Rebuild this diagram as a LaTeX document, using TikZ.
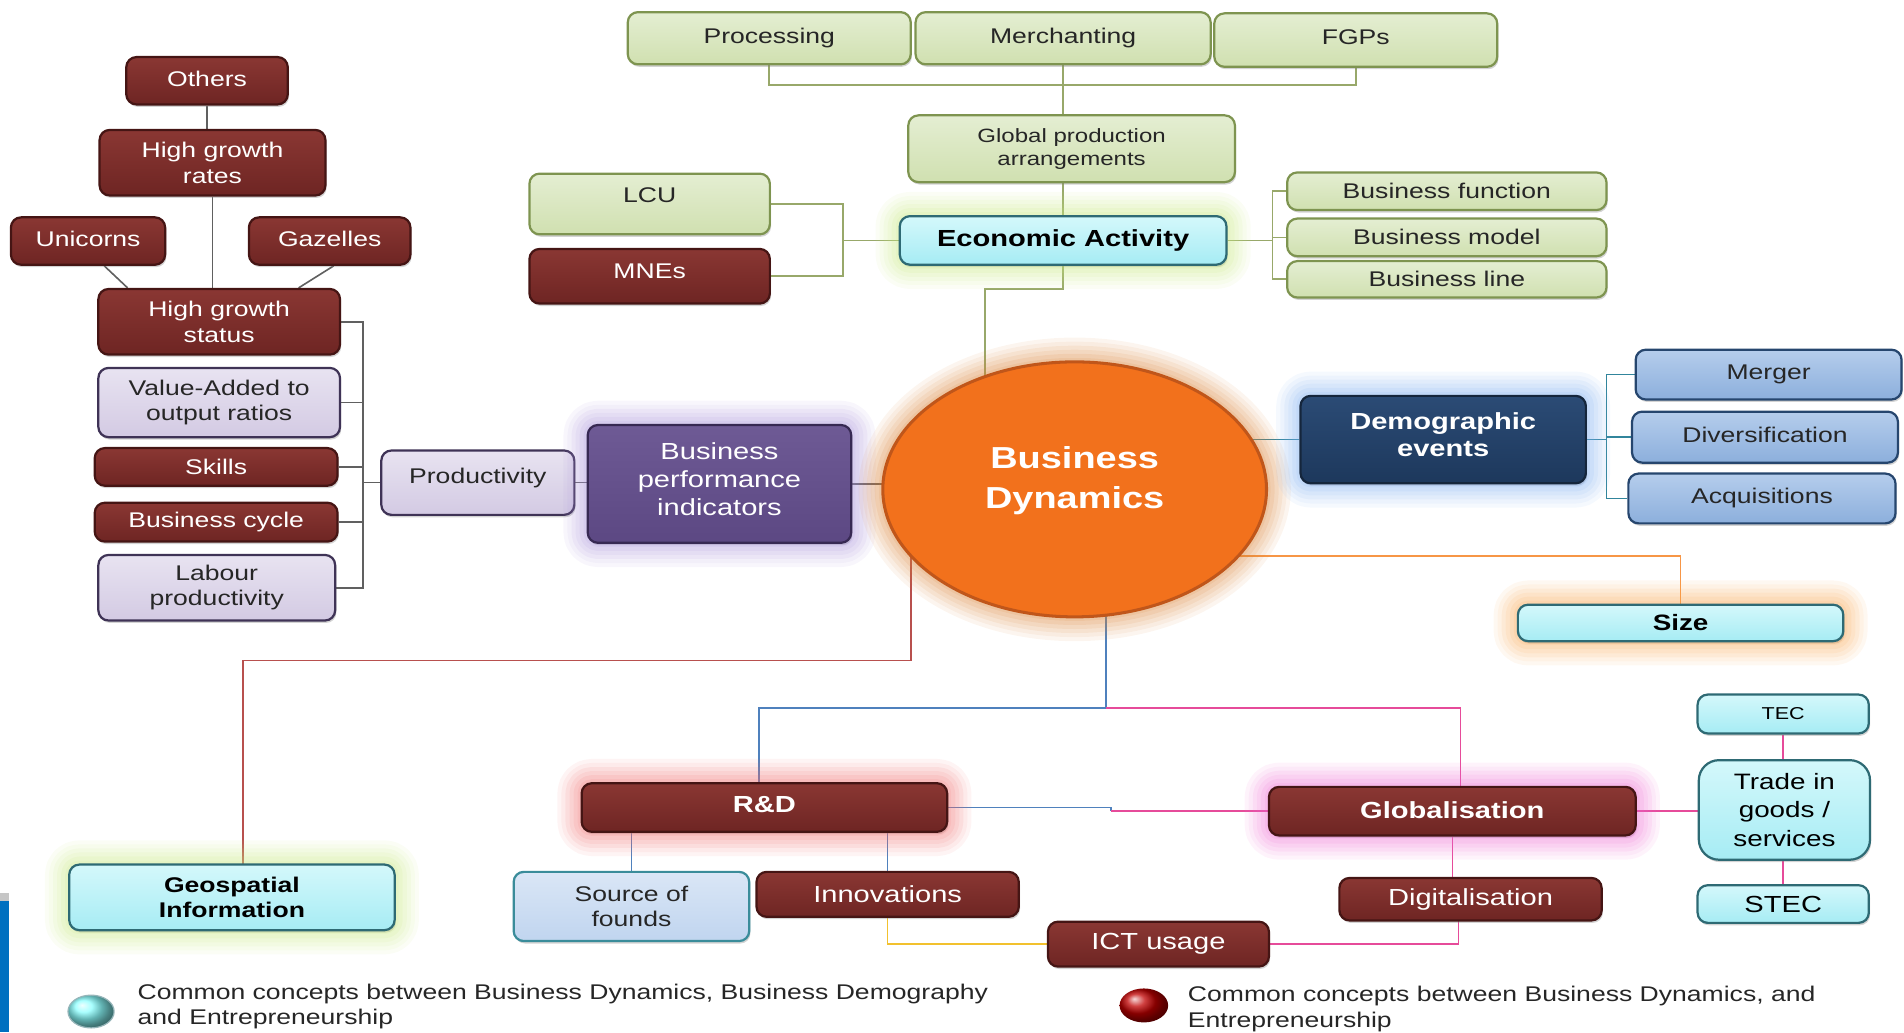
\documentclass[tikz,border=0pt]{standalone}
\usepackage{fontspec}
\setmainfont{Liberation Sans}[FakeStretch=1.25]
\usetikzlibrary{shapes.geometric,shadows}
\definecolor{grfill}{HTML}{D0E0B0}\definecolor{grtop}{HTML}{E4EED2}\definecolor{grline}{HTML}{7E9450}
\definecolor{rdfill}{HTML}{6E2523}\definecolor{rdtop}{HTML}{8A3733}\definecolor{rdline}{HTML}{451514}
\definecolor{cyfill}{HTML}{A6ECF4}\definecolor{cytop}{HTML}{D4F8FB}\definecolor{cyline}{HTML}{2E6A74}
\definecolor{lvfill}{HTML}{D3CAE3}\definecolor{lvtop}{HTML}{E8E3F1}\definecolor{lvline}{HTML}{3F3356}
\definecolor{lbfill}{HTML}{8CAFDC}\definecolor{lbtop}{HTML}{B5CDEC}\definecolor{lbline}{HTML}{26466E}
\definecolor{srcfill}{HTML}{C0D5EF}\definecolor{srctop}{HTML}{DAE6F6}\definecolor{srcline}{HTML}{3A8C9A}
\definecolor{nvfill}{HTML}{1D385C}\definecolor{nvtop}{HTML}{2B4B75}\definecolor{nvline}{HTML}{15263C}
\definecolor{pufill}{HTML}{5C4883}\definecolor{putop}{HTML}{6E5A95}\definecolor{puline}{HTML}{372953}
\definecolor{orfill}{HTML}{F2711C}\definecolor{orline}{HTML}{C0561A}
\definecolor{olivel}{HTML}{98A86A}\definecolor{grayl}{HTML}{606060}\definecolor{teall}{HTML}{31859C}
\definecolor{orangel}{HTML}{F79646}\definecolor{brownl}{HTML}{B8504E}\definecolor{bluel}{HTML}{4F81BD}
\definecolor{pinkl}{HTML}{E64B9A}\definecolor{yellowl}{HTML}{F2C12E}\definecolor{stripb}{HTML}{0070C0}
\definecolor{glgreen}{HTML}{C8E882}\definecolor{glblue}{HTML}{7EAEF0}\definecolor{glpurple}{HTML}{A892DA}
\definecolor{glorange}{HTML}{F8A650}\definecolor{glcircle}{HTML}{D98236}\definecolor{glred}{HTML}{F07070}
\definecolor{glpink}{HTML}{EE6CD2}
\pgfdeclarelayer{back}
\pgfsetlayers{back,main}
\tikzset{
  bx/.style={draw, rounded corners=5pt, line width=1.1pt, inner sep=0pt, align=center,
    font=\fontsize{10.5}{12.6}\selectfont,
    drop shadow={shadow xshift=0.6pt, shadow yshift=-1.2pt, opacity=0.35}},
  halo/.style={preaction={draw=#1, line width=24pt, opacity=0.08},
    preaction={draw=#1, line width=20pt, opacity=0.08},
    preaction={draw=#1, line width=16pt, opacity=0.1},
    preaction={draw=#1, line width=12pt, opacity=0.1},
    preaction={draw=#1, line width=8pt, opacity=0.12},
    preaction={draw=#1, line width=4pt, opacity=0.12}},
  grbox/.style={bx, draw=grline, top color=grtop, bottom color=grfill, text=black!85},
  rdbox/.style={bx, draw=rdline, top color=rdtop, bottom color=rdfill, text=white},
  cybox/.style={bx, draw=cyline, top color=cytop, bottom color=cyfill, text=black},
  lvbox/.style={bx, draw=lvline, top color=lvtop, bottom color=lvfill, text=black!85},
  lbbox/.style={bx, draw=lbline, top color=lbtop, bottom color=lbfill, text=black!85},
  srcbox/.style={bx, draw=srcline, top color=srctop, bottom color=srcfill, text=black!85},
  bigbold/.style={font=\fontsize{11.5}{13.2}\selectfont\bfseries},
  ln/.style={line width=0.8pt},
}
\begin{document}
\begin{tikzpicture}[x=0.6pt, y=-0.6pt, line join=round, line cap=round]
  \def\pu{0.6pt}
  \useasboundingbox (0,0) rectangle (1568,850);
  % global production branch
  \node[grbox, minimum width=233*\pu, minimum height=43*\pu] (proc) at (633.5,31.5) {\raisebox{2.5pt}{Processing}};
  \node[grbox, minimum width=243*\pu, minimum height=43*\pu] (merch) at (875.5,31.5) {\raisebox{2.5pt}{Merchanting}};
  \node[grbox, minimum width=233*\pu, minimum height=44*\pu] (fgp) at (1116.5,33) {\raisebox{2.5pt}{FGPs}};
  \node[grbox, minimum width=269*\pu, minimum height=55*\pu, font=\fontsize{9.5}{11.4}\selectfont] (gpa) at (882.5,122.5) {Global production\\arrangements};
  \node[cybox, halo=glgreen, bigbold, minimum width=269*\pu, minimum height=40*\pu] (eca) at (875.5,198) {Economic Activity};
  \node[grbox, minimum width=198*\pu, minimum height=50*\pu] (lcu) at (535,168) {\raisebox{8.5pt}{LCU}};
  \node[rdbox, minimum width=198*\pu, minimum height=45*\pu] (mne) at (535,227.5) {\raisebox{5pt}{MNEs}};
  \node[grbox, minimum width=263*\pu, minimum height=31*\pu] (bfun) at (1191.5,157.5) {Business function};
  \node[grbox, minimum width=263*\pu, minimum height=31*\pu] (bmod) at (1191.5,195.5) {Business model};
  \node[grbox, minimum width=263*\pu, minimum height=30*\pu] (blin) at (1191.5,230) {Business line};
  % productivity branch
  \node[rdbox, minimum width=133*\pu, minimum height=39*\pu] (oth) at (170.5,66.5) {\raisebox{2pt}{Others}};
  \node[rdbox, minimum width=186*\pu, minimum height=54*\pu] (hgr) at (175,134) {High growth\\rates};
  \node[rdbox, minimum width=127*\pu, minimum height=39*\pu] (uni) at (72.5,198.5) {\raisebox{2pt}{Unicorns}};
  \node[rdbox, minimum width=133*\pu, minimum height=39*\pu] (gaz) at (271.5,198.5) {\raisebox{2pt}{Gazelles}};
  \node[rdbox, minimum width=199*\pu, minimum height=54*\pu] (hgs) at (180.5,265) {High growth\\status};
  \node[lvbox, minimum width=199*\pu, minimum height=57*\pu] (va) at (180.5,331.5) {Value-Added to\\output ratios};
  \node[rdbox, minimum width=200*\pu, minimum height=31*\pu] (skl) at (178,384.5) {Skills};
  \node[rdbox, minimum width=200*\pu, minimum height=32*\pu] (cyc) at (178,430) {Business cycle};
  \node[lvbox, minimum width=195*\pu, minimum height=54*\pu] (lab) at (178.5,484) {Labour\\productivity};
  \node[lvbox, minimum width=159*\pu, minimum height=53*\pu] (prod) at (393.5,397.5) {\raisebox{7pt}{Productivity}};
  \node[bx, draw=puline, top color=putop, bottom color=pufill, text=white, halo=glpurple,
    font=\fontsize{11.5}{13.8}\selectfont, minimum width=217*\pu, minimum height=97*\pu] (bpi) at (592.5,398.5)
    {Business\\performance\\indicators\rule[-5pt]{0pt}{1pt}};
  % centre
  \node[ellipse, draw=orline, line width=1.5pt, fill=orfill, halo=glcircle, text=white, align=center,
    inner sep=0pt, minimum width=316*\pu, minimum height=210*\pu,
    font=\fontsize{15}{19.8}\selectfont\bfseries] (bd) at (885,403) {Business\\Dynamics\rule[-12pt]{0pt}{1pt}};
  \node[bx, draw=nvline, top color=nvtop, bottom color=nvfill, text=white, halo=glblue, bigbold,
    minimum width=235*\pu, minimum height=72*\pu] (dem) at (1188.5,362) {Demographic\\events\rule[-5pt]{0pt}{1pt}};
  \node[lbbox, minimum width=219*\pu, minimum height=41*\pu] (mer) at (1456.5,308.5) {\raisebox{2pt}{Merger}};
  \node[lbbox, minimum width=219*\pu, minimum height=42*\pu] (div) at (1453.5,360) {\raisebox{2pt}{Diversification}};
  \node[lbbox, minimum width=220*\pu, minimum height=41*\pu] (acq) at (1451,410.5) {\raisebox{2pt}{Acquisitions}};
  \node[cybox, halo=glorange, font=\fontsize{11}{13}\selectfont\bfseries, minimum width=268*\pu, minimum height=30*\pu] (size) at (1384,513) {Size};
  % bottom branches
  \node[cybox, halo=glgreen, font=\fontsize{10.5}{12.6}\selectfont\bfseries, minimum width=268*\pu, minimum height=54*\pu] (geo) at (191,739) {Geospatial\\Information};
  \node[rdbox, halo=glred, bigbold, minimum width=301*\pu, minimum height=40*\pu] (rnd) at (629.5,665) {\raisebox{3pt}{R\&D}};
  \node[rdbox, halo=glpink, bigbold, minimum width=302*\pu, minimum height=40*\pu] (glob) at (1196,668) {\raisebox{1pt}{Globalisation}};
  \node[srcbox, minimum width=194*\pu, minimum height=57*\pu] (src) at (520,746.5) {Source of\\founds};
  \node[rdbox, font=\fontsize{11.5}{13.8}\selectfont, minimum width=216*\pu, minimum height=37*\pu] (inn) at (731,736.5) {Innovations};
  \node[rdbox, font=\fontsize{11.5}{13.8}\selectfont, minimum width=182*\pu, minimum height=37*\pu] (ict) at (954,777.5) {ICT usage};
  \node[rdbox, font=\fontsize{11.5}{13.8}\selectfont, minimum width=216*\pu, minimum height=35*\pu] (dig) at (1211,740.5) {Digitalisation};
  \node[cybox, font=\fontsize{8.5}{10}\selectfont, minimum width=141*\pu, minimum height=32*\pu] (tec) at (1468.5,588) {TEC};
  \node[cybox, rounded corners=10pt, font=\fontsize{11}{14.1}\selectfont, minimum width=141*\pu, minimum height=82*\pu] (trd) at (1469.5,667) {Trade in\\goods /\\services};
  \node[cybox, font=\fontsize{11.5}{13.8}\selectfont, minimum width=141*\pu, minimum height=31*\pu] (stec) at (1468.5,744.5) {STEC};
  % legend
  \node[ellipse, inner sep=0pt, minimum width=38*\pu, minimum height=27*\pu, ball color=cyan!45!white, draw=cyline!50, line width=0.6pt] (lgc) at (75,833) {};
  \node[anchor=west, align=left, inner sep=0pt, text=black!85, font=\fontsize{10.5}{12.6}\selectfont] (lgct) at (113,829) {Common concepts between Business Dynamics, Business Demography\\and Entrepreneurship};
  \node[ellipse, inner sep=0pt, minimum width=40*\pu, minimum height=28*\pu, ball color=red!75!black] (lgr) at (942,828) {};
  \node[anchor=west, align=left, inner sep=0pt, text=black!85, font=\fontsize{10.5}{12.6}\selectfont] (lgrt) at (978,831) {Common concepts between Business Dynamics, and\\Entrepreneurship};
  \fill[gray!45] (0,735) rectangle (7,742);
  \fill[stripb] (0,742) rectangle (7,850);
  % connectors
  \begin{pgfonlayer}{back}
    \coordinate (tj) at (876,70);
    \draw[ln, olivel] (proc) |- (tj) -| (fgp);
    \draw[ln, olivel] (merch) -- (eca);
    \coordinate (lj) at (694,198);
    \draw[ln, olivel] (lcu) -| (lj) -- (eca);
    \draw[ln, olivel] (mne) -| (lj);
    \coordinate (rj) at (1048,198);
    \draw[ln, olivel] (eca) -- (rj);
    \draw[ln, olivel] (bfun) -| (rj) |- (blin);
    \draw[ln, olivel] (bmod) -- (bmod -| rj);
    \coordinate (ej) at (811,238);
    \draw[ln, olivel] (eca) |- (ej) -- (ej |- bd);
    \draw[ln, grayl] (oth) -- (oth |- hgr);
    \draw[ln, grayl] (hgr) -- (hgr |- hgs);
    \draw[ln, grayl] ([xshift=8pt]uni.south) -- ([xshift=15pt]hgs.north west);
    \draw[ln, grayl] ([xshift=2pt]gaz.south) -- ([xshift=-21pt]hgs.north east);
    \coordinate (lb) at (299,397.5);
    \draw[ln, grayl] (hgs) -| (lb) |- (lab);
    \draw[ln, grayl] (va) -| (lb);
    \draw[ln, grayl] (skl) -| (lb);
    \draw[ln, grayl] (cyc) -| (lb);
    \draw[ln, grayl] (prod) -- (lb);
    \draw[ln, grayl] (prod) -- (prod -| bpi);
    \draw[ln, grayl] (bpi) -- (bpi -| bd);
    \draw[ln, teall] (dem) -- (dem -| bd);
    \coordinate (dj) at (1323,362);
    \draw[ln, teall] (dem) -- (dj);
    \draw[ln, teall] (mer) -| (dj) |- (acq);
    \draw[ln, teall] (div) -- (div -| dj);
    \coordinate (sj) at (1384,458);
    \draw[ln, orangel] (sj -| bd) -- (sj) -- (size);
    \coordinate (gj) at (750,544);
    \draw[ln, brownl] (gj |- bd) -- (gj) -| ([xshift=5.4pt]geo.center);
    \coordinate (bj) at (911,583);
    \draw[ln, bluel] (bj |- bd) -- (bj) -| ([xshift=-2.7pt]rnd.center);
    \draw[ln, pinkl] (bj) -| ([xshift=4pt]glob.center);
    \coordinate (gk) at (915,668);
    \draw[ln, bluel] (rnd) -| (gk);
    \draw[ln, pinkl] (gk) -- (glob);
    \draw[ln, bluel] (src) -- (src |- rnd);
    \draw[ln, bluel] (inn) -- (inn |- rnd);
    \draw[ln, yellowl] (inn) |- (ict);
    \draw[ln, pinkl] (ict) -| ([xshift=-6pt]dig.center);
    \draw[ln, pinkl] (glob) -- (glob |- dig);
    \draw[ln, pinkl] (glob) -- (glob -| trd);
    \draw[ln, pinkl] (tec) -- (stec);
  \end{pgfonlayer}
\end{tikzpicture}
\end{document}
